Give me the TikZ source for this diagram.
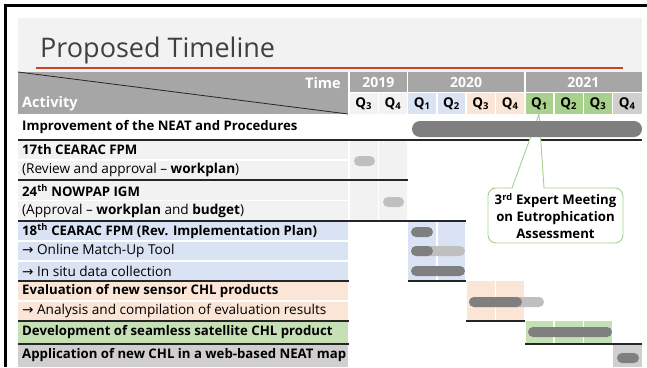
\documentclass[tikz,border=0pt]{standalone}
\usepackage{fontspec}
\setmainfont{Open Sans}
\newfontfamily\arrowfont{DejaVu Sans}
\usepackage{tikz}
\usetikzlibrary{positioning}
\definecolor{titlebg}{HTML}{F2F2F2}
\definecolor{titlered}{HTML}{CC4125}
\definecolor{titletext}{HTML}{404040}
\definecolor{headgray}{HTML}{A6A6A6}
\definecolor{rowgray}{HTML}{F2F2F2}
\definecolor{rowblue}{HTML}{DAE3F3}
\definecolor{rowpeach}{HTML}{FBE5D6}
\definecolor{headgreen}{HTML}{A9D18E}
\definecolor{rowgreen}{HTML}{C5E0B4}
\definecolor{rowlast}{HTML}{D0CECE}
\definecolor{bardark}{HTML}{7F7F7F}
\definecolor{barlight}{HTML}{BFBFBF}
\definecolor{gridline}{HTML}{262626}
\newcommand\qlab[1]{Q\textsubscript{#1}}
\newcommand\arr{{\arrowfont\char"2192}}

\begin{document}
\begin{tikzpicture}[x=1pt,y=-1pt,font=\fontsize{13.6}{15}\selectfont,
  txt/.style={anchor=west,inner sep=0pt},
  bold/.style={anchor=west,inner sep=0pt,font=\fontsize{13.2}{15}\selectfont\bfseries},
  qtxt/.style={inner sep=0pt,font=\fontsize{13.5}{15}\selectfont\bfseries},
  yeartxt/.style={inner sep=0pt,text=white,font=\fontsize{14}{16}\selectfont\bfseries},
  darkbar/.style={fill=bardark,rounded corners=5pt},
  lightbar/.style={fill=barlight,rounded corners=5pt},
  rowline/.style={line width=1.1pt,color=gridline},
  gap/.style={white,line width=1.5pt}]
\useasboundingbox (0,0) rectangle (647,367);
\fill[white] (0,0) rectangle (647,367);
\fill[black] (4,4) rectangle (647,7);
\fill[black] (4,4) rectangle (7,367);
\fill[titlebg] (18,18) rectangle (642,72);
\draw[titlered,line width=2pt] (36,67.5) -- (623,67.5);
\path (40,57) node(title) [anchor=base west,inner sep=0pt,text=titletext,font=\fontsize{27}{30}\selectfont] {Proposed Timeline};
\fill[headgray] (18,72) rectangle (642,114);
\fill[rowgray] (349,92.5) rectangle (407.6,114);
\fill[rowblue] (407.6,92.5) rectangle (466.2,114);
\fill[rowpeach] (466.2,92.5) rectangle (524.8,114);
\fill[headgreen] (524.8,92.5) rectangle (612.7,114);
\fill[rowlast] (612.7,92.5) rectangle (642,114);
\fill[rowgray] (18,140) rectangle (407.6,221);
\fill[rowblue] (18,221) rectangle (349,281);
\fill[rowblue] (407.6,221) rectangle (466.2,281);
\fill[rowpeach] (18,281) rectangle (349,321);
\fill[rowpeach] (466.2,281) rectangle (524.8,321);
\fill[rowgreen] (18,321) rectangle (349,344);
\fill[rowgreen] (524.8,321) rectangle (612.7,344);
\fill[rowlast] (18,344) rectangle (349,367);
\fill[rowlast] (612.7,344) rectangle (642,367);
\draw[gap] (349,72) -- (349,367);
\draw[gap] (407.6,72) -- (407.6,367);
\draw[gap] (524.8,72) -- (524.8,367);
\draw[gap] (378.3,92.5) -- (378.3,367);
\draw[gap] (436.9,92.5) -- (436.9,367);
\draw[gap] (466.2,92.5) -- (466.2,367);
\draw[gap] (495.5,92.5) -- (495.5,367);
\draw[gap] (554.1,92.5) -- (554.1,367);
\draw[gap] (583.4,92.5) -- (583.4,367);
\draw[gap] (612.7,92.5) -- (612.7,367);
\draw[gap] (349,92.5) -- (642,92.5);
\draw[gap] (18,160) -- (349,160);
\draw[gap] (18,200.5) -- (349,200.5);
\draw[gap] (18,241) -- (349,241);
\draw[gap] (18,261) -- (349,261);
\draw[gap] (18,301) -- (349,301);
\draw[rowline] (18,140) -- (642,140);
\draw[rowline] (18,180) -- (407.6,180);
\draw[rowline] (18,221) -- (466.2,221);
\draw[rowline] (18,281) -- (349,281);
\draw[rowline] (407.6,281) -- (466.2,281);
\draw[rowline] (18,321) -- (349,321);
\draw[rowline] (466.2,321) -- (524.8,321);
\draw[rowline] (18,344) -- (349,344);
\draw[rowline] (524.8,344) -- (642,344);
\coordinate (hd_nw) at (18,72);
\coordinate (hd_se) at (348,114);
\draw[line width=0.8pt,color=gridline] (hd_nw) -- (hd_se);
\path (341,83) node(time) [anchor=east,inner sep=0pt,text=white,font=\fontsize{14.5}{16}\selectfont\bfseries] {Time};
\path (22,104) node(activity) [anchor=west,inner sep=0pt,text=white,font=\fontsize{14.5}{16}\selectfont\bfseries] {Activity};
\path (378.3,82.5) node(y2019) [yeartxt] {2019};
\path (466.2,82.5) node(y2020) [yeartxt] {2020};
\path (583.4,82.5) node(y2021) [yeartxt] {2021};
\path (363.6,104) node(q3_19) [qtxt] {\qlab{3}};
\path (393.0,104) node(q4_19) [qtxt] {\qlab{4}};
\path (422.2,104) node(q1_20) [qtxt] {\qlab{1}};
\path (451.5,104) node(q2_20) [qtxt] {\qlab{2}};
\path (480.8,104) node(q3_20) [qtxt] {\qlab{3}};
\path (510.1,104) node(q4_20) [qtxt] {\qlab{4}};
\path (539.4,104) node(q1_21) [qtxt] {\qlab{1}};
\path (568.7,104) node(q2_21) [qtxt] {\qlab{2}};
\path (598.0,104) node(q3_21) [qtxt] {\qlab{3}};
\path (627.3,104) node(q4_21) [qtxt] {\qlab{4}};
\path (22,127) node(neat) [bold] {Improvement of the NEAT and Procedures};
\path (22,150) node(fpm17) [bold] {17th CEARAC FPM};
\path (22,170) node(fpm17_sub) [txt] {(Review and approval -- \textbf{workplan})};
\path (22,190.5) node(igm24) [bold] {24\textsuperscript{th} NOWPAP IGM};
\path (22,210.5) node(igm24_sub) [txt] {(Approval -- \textbf{workplan} and \textbf{budget})};
\path (22,231) node(fpm18) [bold] {18\textsuperscript{th} CEARAC FPM (Rev. Implementation Plan)};
\path (22,251) node(matchup) [txt] {\arr{} Online Match-Up Tool};
\path (22,271) node(insitu) [txt] {\arr{} In situ data collection};
\path (22,291) node(evalchl) [bold] {Evaluation of new sensor CHL products};
\path (22,311) node(evalres) [txt] {\arr{} Analysis and compilation of evaluation results};
\path (22,332.5) node(seamless) [bold] {Development of seamless satellite CHL product};
\path (22,355.5) node(webmap) [bold] {Application of new CHL in a web-based NEAT map};
\coordinate (tip) at (539,114);
\draw[headgreen,fill=white,line width=0.9pt] (488,215) [rounded corners=8pt] -- (488,188) -- (500,188) [sharp corners] -- (512,188) -- (tip) -- (544,188) -- (560,188) [rounded corners=8pt] -- (623,188) -- (623,243) -- (488,243) -- cycle;
\path (555.5,216) node(meeting) [align=center,inner sep=0pt,font=\fontsize{13.2}{17}\selectfont\bfseries] {3\textsuperscript{rd} Expert Meeting\\on Eutrophication\\Assessment};
\fill[darkbar,rounded corners=8pt] (412,121) rectangle (642,137);
\fill[lightbar] (354,156) rectangle (375,166);
\fill[lightbar] (383,197) rectangle (404,207);
\fill[darkbar] (411,227) rectangle (433,237);
\fill[lightbar] (411,246) rectangle (465,256);
\fill[darkbar] (411,246) rectangle (433,256);
\fill[darkbar] (411,266) rectangle (465,276);
\fill[lightbar] (469,297) rectangle (544,307);
\fill[darkbar] (469,297) rectangle (522,307);
\fill[darkbar] (528,327) rectangle (612,337);
\fill[darkbar] (617,353) rectangle (639,363);
\end{tikzpicture}
\end{document}
